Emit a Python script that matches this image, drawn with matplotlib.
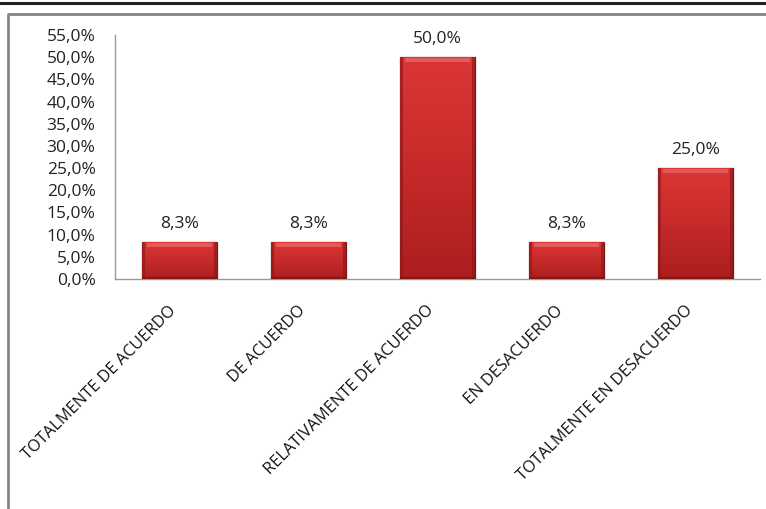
import matplotlib
matplotlib.use("Agg")
import matplotlib.pyplot as plt
import numpy as np
from matplotlib.lines import Line2D
from matplotlib.patches import Rectangle
from matplotlib.colors import LinearSegmentedColormap

categories = ["TOTALMENTE DE ACUERDO", "DE ACUERDO", "RELATIVAMENTE DE ACUERDO",
              "EN DESACUERDO", "TOTALMENTE EN DESACUERDO"]
values = [8.3, 8.3, 50.0, 8.3, 25.0]
yticks = [0, 5, 10, 15, 20, 25, 30, 35, 40, 45, 50, 55]

plt.rcParams['font.family'] = ['Open Sans', 'DejaVu Sans']

W, H = 766, 509
fig = plt.figure(figsize=(W/100, H/100), dpi=100)
fig.patch.set_facecolor('white')

# outer decorations: black top rule and gray frame
fig.add_artist(Line2D([0, 1], [1 - 2.5/H, 1 - 2.5/H], color='#222222', lw=2.2, transform=fig.transFigure))
fig.add_artist(Line2D([8/W, 8/W, 1.01], [-0.01, 1 - 14/H, 1 - 14/H], color='#858585', lw=2.0, transform=fig.transFigure))

ax = fig.add_axes([115/W, 1 - 279/H, (760-115)/W, (279-35)/H])
x = np.arange(len(categories))
bars = ax.bar(x, values, width=0.575, color='#C62D2D', edgecolor='#7E1515', linewidth=0.9, zorder=2)

grad_cmap = LinearSegmentedColormap.from_list('g', ['#AC1E1E', '#C72A2A', '#DC3636'])
px_per_unit = (279 - 35) / 55.0
for b in bars:
    bx, bw, bh = b.get_x(), b.get_width(), b.get_height()
    grad = np.linspace(0, 1, 100).reshape(-1, 1)
    im = ax.imshow(grad, cmap=grad_cmap, origin='lower', aspect='auto',
                   extent=(bx, bx + bw, 0, bh), zorder=2.5, interpolation='bilinear')
    im.set_clip_path(b)
    band = 5 / px_per_unit
    ax.add_patch(Rectangle((bx + bw*0.06, bh - band), bw*0.88, band*0.9, color='#E45A5A', lw=0, zorder=3))
    ax.add_patch(Rectangle((bx, 0), bw*0.04, bh, color='#8E1A1A', lw=0, zorder=3, alpha=0.7))
    ax.add_patch(Rectangle((bx + bw*0.96, 0), bw*0.04, bh, color='#8E1A1A', lw=0, zorder=3, alpha=0.7))
    ax.add_patch(Rectangle((bx, 0), bw, 1.2 / px_per_unit * 2, color='#7A1414', lw=0, zorder=3, alpha=0.8))
ax.set_aspect('auto')

for xi, v in zip(x, values):
    ax.annotate(f"{v:.1f}%".replace('.', ','), (xi, v), xytext=(0, 13), textcoords='offset points',
                ha='center', va='center', fontsize=12.5, color='#222222')

ax.set_xlim(-0.5, len(categories) - 0.5)
ax.set_ylim(0, 55)
ax.set_yticks(yticks)
ax.set_yticklabels([f"{t:.1f}%".replace('.', ',') for t in yticks], fontsize=12.5, color='#222222')
ax.set_xticks(x)
ax.set_xticklabels(categories, rotation=45, ha='right', fontsize=11.8, color='#111111')
ax.tick_params(axis='y', length=0, pad=14)
ax.tick_params(axis='x', length=0, pad=17)
for s in ['top', 'right']:
    ax.spines[s].set_visible(False)
for s in ['left', 'bottom']:
    ax.spines[s].set_color('#9A9A9A')
    ax.spines[s].set_linewidth(1.0)

fig.savefig('out.png', dpi=100)
